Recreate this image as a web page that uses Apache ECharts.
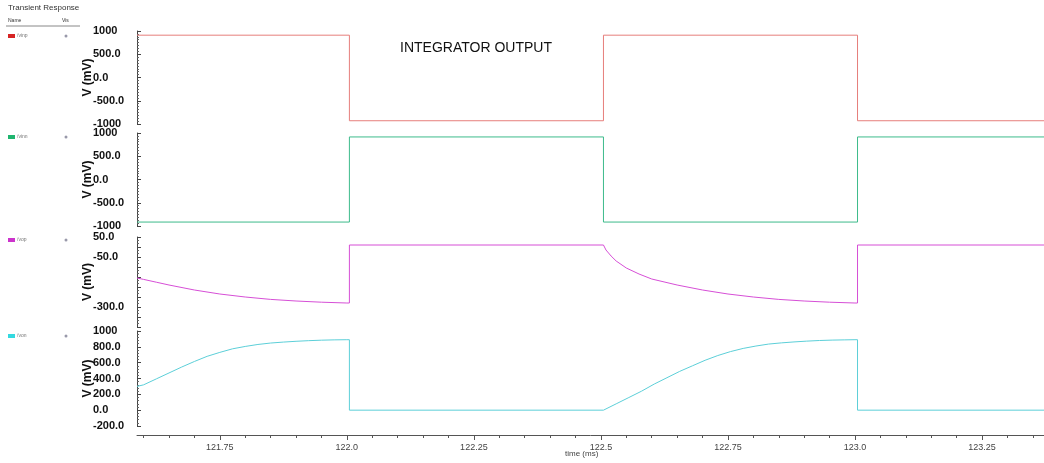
<!DOCTYPE html>
<html>
<head>
<meta charset="utf-8">
<script src="https://cdn.jsdelivr.net/npm/echarts@6/dist/echarts.min.js"></script>
<style>
  html, body { margin: 0; padding: 0; background: #fff; }
  #chart { width: 1044px; height: 463px; }
</style>
</head>
<body>
<div id="chart"></div>
<script>
// Transient response: four stacked traces sharing one time axis (ms)
const signalNames = ['/vinp', '/vinn', '/vop', '/von'];

// square inputs (time ms, mV)
const vinpTime = [121.587, 122.005, 122.005, 122.505, 122.505, 123.005, 123.005, 123.372];
const vinpVal  = [910, 910, -930, -930, 910, 910, -930, -930];
const vinnTime = [121.587, 122.005, 122.005, 122.505, 122.505, 123.005, 123.005, 123.372];
const vinnVal  = [-915, -915, 915, 915, -915, -915, 915, 915];

// /vop trace
const vopTime = [121.587, 121.6, 121.625, 121.65, 121.7, 121.75, 121.8, 121.85, 121.9, 121.95, 122.0, 122.005,
  122.005, 122.505, 122.51, 122.52, 122.53, 122.55, 122.575, 122.6, 122.65, 122.7, 122.75, 122.8, 122.85, 122.9, 122.95, 123.0, 123.005,
  123.005, 123.372];
const vopVal = [-155, -162, -176, -190, -215, -235, -250, -262, -270, -276, -280, -280,
  10, 10, -15, -45, -70, -105, -135, -160, -190, -215, -235, -250, -262, -270, -276, -280, -280,
  10, 10];

// /von trace
const vonTime = [121.587, 121.6, 121.625, 121.65, 121.675, 121.7, 121.725, 121.75, 121.775, 121.8, 121.825, 121.85, 121.875, 121.9, 121.925, 121.95, 121.975, 122.0, 122.005,
  122.005, 122.505, 122.53, 122.555, 122.58, 122.605, 122.63, 122.655, 122.68, 122.705, 122.73, 122.755, 122.78, 122.805, 122.83, 122.855, 122.88, 122.905, 122.93, 122.955, 122.98, 123.0, 123.005,
  123.005, 123.372];
const vonVal = [300, 320, 395, 470, 545, 615, 680, 730, 775, 805, 830, 848, 860, 870, 878, 884, 888, 890, 890,
  0, 0, 80, 160, 240, 330, 410, 490, 560, 630, 690, 740, 780, 810, 835, 850, 862, 872, 880, 885, 888, 890, 890,
  0, 0];

// time axis ticks
const timeLabelValues = [121.75, 122.0, 122.25, 122.5, 122.75, 123.0, 123.25];
const timeLabelText = ['121.75', '122.0', '122.25', '122.5', '122.75', '123.0', '123.25'];
const timeMinorTicks = [121.6, 121.65, 121.7, 121.8, 121.85, 121.9, 121.95, 122.05, 122.1, 122.15, 122.2,
  122.3, 122.35, 122.4, 122.45, 122.55, 122.6, 122.65, 122.7, 122.8, 122.85, 122.9, 122.95,
  123.05, 123.1, 123.15, 123.2, 123.3, 123.35];

// per-panel y ranges and labelled ticks
const yMin = [-1000, -1000, -400, -200];
const yMax = [1000, 1000, 50, 1000];
const yStep = [500, 500, 50, 200];
const yShown = [null, null, [50, -50, -300], null];

const lineColors = ['#e67e7b', '#3dbb8b', '#d64fd6', '#5ccfd8'];
const swatchColors = ['#d62424', '#1fb56f', '#cc33cc', '#33d9e0'];
const minorSplits = [8, 8, 3, 5];

const xMin = 121.587, xMax = 123.372;
const gridTops = [31, 133, 237, 331];
const gridHeights = [93, 93, 90, 95];

function pairs(t, v) { return t.map((x, i) => [x, v[i]]); }
const seriesData = [pairs(vinpTime, vinpVal), pairs(vinnTime, vinnVal), pairs(vopTime, vopVal), pairs(vonTime, vonVal)];

function yFmt(v) {
  return Math.abs(v) >= 1000 ? String(Math.round(v)) : v.toFixed(1);
}

const grids = [], xAxes = [], yAxes = [], series = [];
for (let i = 0; i < 4; i++) {
  grids.push({ left: 137, right: 0, top: gridTops[i], height: gridHeights[i] });
  xAxes.push({
    type: 'value', gridIndex: i, min: xMin, max: xMax,
    show: false
  });
  const shown = yShown[i];
  yAxes.push({
    type: 'value', gridIndex: i, min: yMin[i], max: yMax[i], interval: yStep[i],
    name: 'V (mV)', nameLocation: 'middle', nameGap: 43, nameRotate: 90, nameMoveOverlap: false,
    nameTextStyle: { fontFamily: 'Liberation Sans, Arial, sans-serif', fontWeight: 'bold', fontSize: 12, color: '#111' },
    axisLine: { show: true, lineStyle: { color: '#444', width: 1 } },
    axisTick: { show: true, inside: true, length: 4, lineStyle: { color: '#444' } },
    minorTick: { show: true, splitNumber: minorSplits[i], length: 2, lineStyle: { color: '#666' } },
    splitLine: { show: false },
    axisLabel: {
      align: 'left', margin: 44, fontFamily: 'Liberation Sans, Arial, sans-serif',
      fontWeight: 'bold', fontSize: 11, color: '#111', showMinLabel: true, showMaxLabel: true,
      formatter: v => (shown && shown.indexOf(v) < 0) ? '' : yFmt(v)
    }
  });
  series.push({
    type: 'line', name: signalNames[i], xAxisIndex: i, yAxisIndex: i,
    data: seriesData[i], showSymbol: false, symbol: 'none', animation: false,
    lineStyle: { color: lineColors[i], width: 1 }
  });
}

// bottom time axis (major labelled ticks + minor ticks), attached to the last panel
xAxes.push({
  type: 'value', gridIndex: 3, min: xMin, max: xMax, position: 'bottom', offset: 9,
  axisLine: { show: true, lineStyle: { color: '#555', width: 1 } },
  axisTick: { show: true, length: 5, customValues: timeLabelValues, lineStyle: { color: '#555' } },
  axisLabel: {
    customValues: timeLabelValues, fontFamily: 'Liberation Sans, Arial, sans-serif', fontSize: 9, color: '#444', margin: 8,
    formatter: v => { const k = timeLabelValues.findIndex(t => Math.abs(t - v) < 1e-6); return k >= 0 ? timeLabelText[k] : ''; }
  },
  splitLine: { show: false }
});
xAxes.push({
  type: 'value', gridIndex: 3, min: xMin, max: xMax, position: 'bottom', offset: 9,
  axisLine: { show: false },
  axisTick: { show: true, length: 3, customValues: timeMinorTicks, lineStyle: { color: '#555' } },
  axisLabel: { show: false },
  splitLine: { show: false }
});

// left-hand signal list
const legendY = [36, 137, 240, 336];
const graphics = [
  { type: 'text', left: 8, top: 4, style: { text: 'Transient Response', fontSize: 8, fontFamily: 'Liberation Sans, Arial, sans-serif', fill: '#333' } },
  { type: 'text', left: 8, top: 18, style: { text: 'Name', fontSize: 5, fontFamily: 'Liberation Sans, Arial, sans-serif', fill: '#333' } },
  { type: 'text', left: 62, top: 18, style: { text: 'Vis', fontSize: 5, fontFamily: 'Liberation Sans, Arial, sans-serif', fill: '#333' } },
  { type: 'line', shape: { x1: 6, y1: 26, x2: 80, y2: 26 }, style: { stroke: '#888', lineWidth: 1 } },
  { type: 'text', left: 400, top: 41, style: { text: 'INTEGRATOR OUTPUT', fontSize: 14, fontFamily: 'Liberation Sans, Arial, sans-serif', fill: '#111' } },
  { type: 'text', left: 565, top: 450, style: { text: 'time (ms)', fontSize: 8, fontFamily: 'Liberation Sans, Arial, sans-serif', fill: '#444' } }
];
for (let i = 0; i < 4; i++) {
  graphics.push({ type: 'rect', shape: { x: 8, y: legendY[i] - 2, width: 7, height: 4 }, style: { fill: swatchColors[i] } });
  graphics.push({ type: 'text', left: 17, top: legendY[i] - 3, style: { text: signalNames[i], fontSize: 5, fontFamily: 'Liberation Sans, Arial, sans-serif', fill: '#777' } });
  graphics.push({ type: 'circle', shape: { cx: 66, cy: legendY[i], r: 1.5 }, style: { fill: '#99a' } });
}

const chart = echarts.init(document.getElementById('chart'), null, { renderer: 'canvas' });
chart.setOption({
  animation: false,
  backgroundColor: '#fff',
  grid: grids,
  xAxis: xAxes,
  yAxis: yAxes,
  series: series,
  graphic: graphics
});
</script>
</body>
</html>
